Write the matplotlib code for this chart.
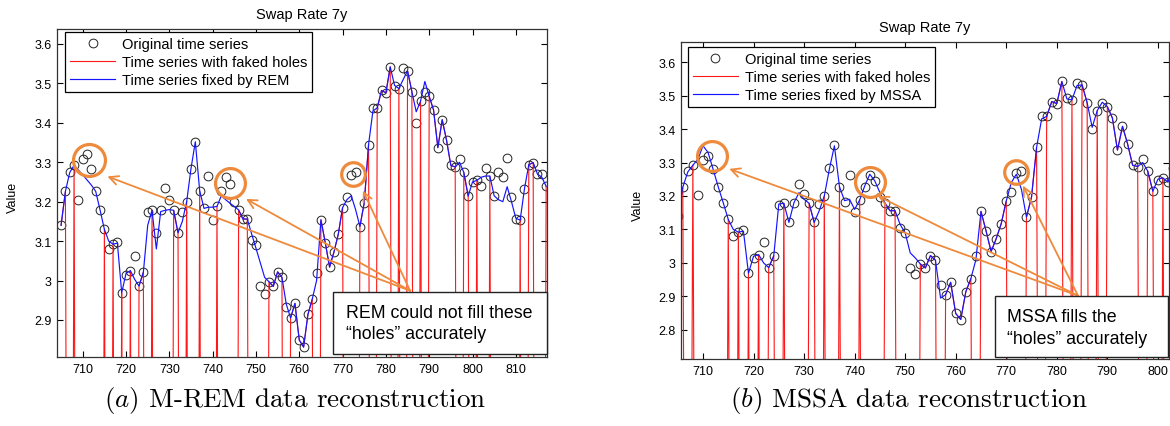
import matplotlib
matplotlib.use("Agg")
import matplotlib.pyplot as plt
from matplotlib.patches import Rectangle
from matplotlib.ticker import FuncFormatter
import numpy as np

plt.rcParams['font.family'] = ['Liberation Sans', 'DejaVu Sans']
plt.rcParams['mathtext.fontset'] = 'cm'

# time index of the window shown
t = np.arange(705, 818)

# original swap rate 7y values (one per time step)
orig = [
    3.140, 3.226, 3.274, 3.292, 3.204, 3.307, 3.320, 3.282, 3.226, 3.179,   # 705-714
    3.130, 3.079, 3.092, 3.098, 2.969, 3.015, 3.025, 3.063, 2.986, 3.021,   # 715-724
    3.174, 3.178, 3.121, 3.178, 3.235, 3.205, 3.178, 3.121, 3.175, 3.200,   # 725-734
    3.284, 3.352, 3.228, 3.183, 3.264, 3.153, 3.188, 3.226, 3.263, 3.245,   # 735-744
    3.198, 3.179, 3.156, 3.156, 3.103, 3.090, 2.986, 2.967, 2.997, 2.985,   # 745-754
    3.022, 3.008, 2.933, 2.905, 2.942, 2.849, 2.831, 2.914, 2.953, 3.020,   # 755-764
    3.154, 3.096, 3.034, 3.072, 3.117, 3.185, 3.211, 3.268, 3.275, 3.137,   # 765-774
    3.197, 3.345, 3.438, 3.438, 3.482, 3.476, 3.542, 3.493, 3.487, 3.538,   # 775-784
    3.532, 3.479, 3.399, 3.455, 3.479, 3.467, 3.433, 3.337, 3.408, 3.356,   # 785-794
    3.292, 3.288, 3.309, 3.274, 3.214, 3.249, 3.254, 3.241, 3.285, 3.265,   # 795-804
    3.214, 3.274, 3.262, 3.312, 3.213, 3.157, 3.153, 3.233, 3.294, 3.299,   # 805-814
    3.271, 3.271, 3.239,                                                     # 815-817
]

# positions of the faked holes
holes = [707, 709, 710, 711, 712, 713, 714, 716, 718, 720, 722, 725,
         727, 728, 729, 730, 733, 735, 736, 738, 739, 740,
         742, 743, 744, 745, 749, 750, 751, 752, 757, 764,
         771, 772, 773, 777, 782, 784, 787, 789, 797, 800,
         802, 803, 805, 806, 807, 808, 809, 810, 812, 815, 816]

# values put into the holes by each method
rem_fill = [3.274, 3.280, 3.268, 3.255, 3.242, 3.226, 3.179, 3.100, 3.095, 3.018, 3.003, 3.140,
            3.080, 3.175, 3.178, 3.180, 3.150, 3.284, 3.352, 3.183, 3.186, 3.186,
            3.215, 3.205, 3.196, 3.188, 3.118, 3.082, 3.045, 3.008, 2.940, 3.000,
            3.205, 3.215, 3.180, 3.430, 3.495, 3.510, 3.428, 3.505, 3.300, 3.250,
            3.262, 3.265, 3.215, 3.205, 3.200, 3.238, 3.200, 3.158, 3.233, 3.270, 3.262]

mssa_fill = [3.272, 3.310, 3.350, 3.330, 3.280, 3.228, 3.180, 3.100, 3.095, 3.020, 3.000, 3.176,
             3.121, 3.180, 3.210, 3.190, 3.156, 3.280, 3.350, 3.186, 3.190, 3.160,
             3.230, 3.265, 3.245, 3.210, 3.115, 3.090, 3.030, 3.015, 2.895, 3.010,
             3.240, 3.265, 3.220, 3.430, 3.490, 3.530, 3.405, 3.480, 3.300, 3.250,
             3.241, 3.285, 3.214, 3.274, 3.262, 3.312, 3.213, 3.157, 3.233, 3.271, 3.271]

orig = np.array(orig)
hole_pos = np.array(holes) - t[0]
with_holes = orig.copy()
with_holes[hole_pos] = 0.0          # holes were stored as zeros
fixed_rem = orig.copy()
fixed_rem[hole_pos] = rem_fill
fixed_mssa = orig.copy()
fixed_mssa[hole_pos] = mssa_fill

W, H = 1170, 427
orange = '#EE8A3C'

fig = plt.figure(figsize=(W / 100, H / 100), dpi=100)


def px_axes(x0, y0, x1, y1):
    return [x0 / W, 1 - y1 / H, (x1 - x0) / W, (y1 - y0) / H]


def draw_panel(ax, fixed, method, xlim, ylim, yticks, anchor):
    ax.plot(t, orig, 'o', ms=6.3, mfc='none', mec='#222222', mew=0.7,
            label='Original time series')
    ax.plot(t, with_holes, color='#FF1818', lw=0.8, label='Time series with faked holes')
    ax.plot(t, fixed, color='#1414FF', lw=0.85, label='Time series fixed by ' + method)
    ax.set_xticks(np.arange(710, 820, 10))
    ax.set_yticks(yticks)
    # set limits after ticks so the ticks do not widen the view
    ax.set_xlim(*xlim)
    ax.set_ylim(*ylim)
    ax.yaxis.set_major_formatter(FuncFormatter(lambda v, p: '%g' % round(v, 2)))
    ax.tick_params(direction='in', top=True, right=True, length=4, width=0.8,
                   labelsize=9, pad=4)
    for s in ax.spines.values():
        s.set_linewidth(0.9)
        s.set_color('#333333')
    ax.set_title('Swap Rate 7y', fontsize=10.5, pad=8)
    leg = ax.legend(loc='upper left', bbox_to_anchor=anchor, borderaxespad=0,
                    fontsize=10.5, numpoints=1, handlelength=3.1, handletextpad=0.45,
                    labelspacing=0.27, borderpad=0.35, fancybox=False,
                    framealpha=1, edgecolor='black')
    leg.get_frame().set_linewidth(0.9)


ax1 = fig.add_axes(px_axes(57, 30, 547, 358))
draw_panel(ax1, fixed_rem, 'REM', (704.06, 817.2), (2.806, 3.638),
           np.arange(2.9, 3.65, 0.1), (0.0163, 0.991))

ax2 = fig.add_axes(px_axes(681, 43, 1169, 360))
draw_panel(ax2, fixed_mssa, 'MSSA', (705.65, 802.2), (2.713, 3.66),
           np.arange(2.8, 3.65, 0.1), (0.0137, 0.983))


def callout(ax, rings, start, tips, box, lines):
    for (cx, cy, ms) in rings:
        ax.plot([cx], [cy], 'o', ms=ms, mfc='none', mec=orange, mew=2.3,
                clip_on=False, zorder=6)
    for tip in tips:
        ax.annotate('', xy=tip, xytext=start, annotation_clip=False,
                    arrowprops=dict(arrowstyle='->', color=orange, lw=1.3,
                                    mutation_scale=16, shrinkA=0, shrinkB=0),
                    zorder=6)
    x0, y0, x1, y1 = box
    fig.add_artist(Rectangle((x0 / W, 1 - y1 / H), (x1 - x0) / W, (y1 - y0) / H,
                             transform=fig.transFigure, fc='white', ec='#222222',
                             lw=1.0, zorder=5))
    for (tx, ty, s) in lines:
        fig.text(tx / W, 1 - ty / H, s, fontsize=12.8, ha='left', va='center', zorder=6)


callout(ax1,
        [(711.5, 3.306, 23), (744.0, 3.247, 21.5), (772.4, 3.270, 17)],
        (785.6, 2.974),
        [(715.7, 3.264), (747.7, 3.207), (774.7, 3.228)],
        (333, 293, 547, 355),
        [(346, 313, 'REM could not fill these'), (346, 335, '\u201choles\u201d accurately')])

callout(ax2,
        [(711.7, 3.320, 21.5), (743.0, 3.241, 21.5), (772.0, 3.271, 17)],
        (784.2, 2.902),
        [(715.2, 3.281), (744.6, 3.200), (773.3, 3.231)],
        (995, 297, 1168, 358),
        [(1007, 318, 'MSSA fills the'), (1007, 340, '\u201choles\u201d accurately')])

fig.text(13 / W, 1 - 197 / H, 'Value', rotation=90, fontsize=9, ha='center', va='center')
fig.text(638 / W, 1 - 205 / H, 'Value', rotation=90, fontsize=9, ha='center', va='center')

fig.text(295 / W, 1 - 401 / H, r'$\mathit{(a)}$ M-REM data reconstruction',
         family='cmr10', fontsize=19.5, ha='center', va='center')
fig.text(909 / W, 1 - 401 / H, r'$\mathit{(b)}$ MSSA data reconstruction',
         family='cmr10', fontsize=19.5, ha='center', va='center')

fig.savefig('out.png', dpi=100)
